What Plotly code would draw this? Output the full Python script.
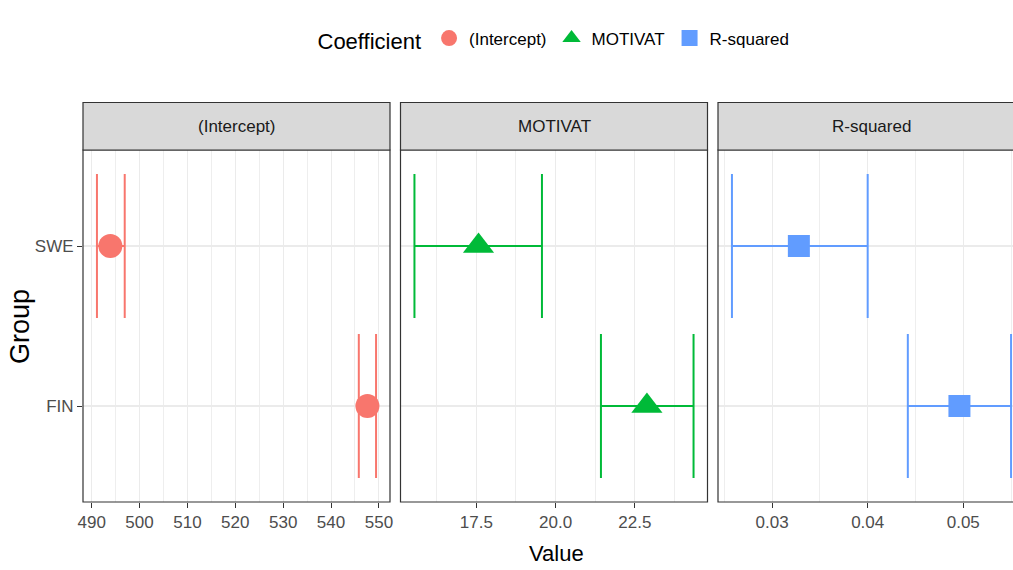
import plotly.graph_objects as go

# ---------------- data ----------------
groups = ["FIN", "SWE"]
coefficients = ["(Intercept)", "MOTIVAT", "R-squared"]

intercept_est = [547.6, 493.9]
intercept_lo = [545.8, 491.1]
intercept_hi = [549.4, 496.9]

motivat_est = [22.88, 17.57]
motivat_lo = [21.43, 15.55]
motivat_hi = [24.35, 19.57]

rsq_est = [0.0496, 0.0328]
rsq_lo = [0.0442, 0.0258]
rsq_hi = [0.0550, 0.0400]

intercept_ticks = [490, 500, 510, 520, 530, 540, 550]
intercept_ticktext = ["490", "500", "510", "520", "530", "540", "550"]
motivat_ticks = [17.5, 20.0, 22.5]
motivat_ticktext = ["17.5", "20.0", "22.5"]
rsq_ticks = [0.03, 0.04, 0.05]
rsq_ticktext = ["0.03", "0.04", "0.05"]

# ---------------- style / layout ----------------
W, H = 1013, 570
ML, MR, MT, MB = 83, 0, 150, 68
PW, PH = W - ML - MR, H - MT - MB
FONT = "Liberation Sans, Arial, sans-serif"

panel_px = [(83, 390), (400.5, 707.5), (718, 1025)]
colors = ["#F8766D", "#00BA38", "#619CFF"]
symbols = ["circle", "triangle-up", "square"]
msizes = [24, 27, 22]
minor_step = [5, 1.25, 0.005]

series = [
    (intercept_est, intercept_lo, intercept_hi, intercept_ticks, intercept_ticktext),
    (motivat_est, motivat_lo, motivat_hi, motivat_ticks, motivat_ticktext),
    (rsq_est, rsq_lo, rsq_hi, rsq_ticks, rsq_ticktext),
]

def px2paper_x(px):
    return (px - ML) / PW

fig = go.Figure()
ypos = [i + 1 for i in range(len(groups))]
half_cap = 0.45

for k, (name, (est, lo, hi, tv, tt)) in enumerate(zip(coefficients, series)):
    ax = "" if k == 0 else str(k + 1)
    xs, ys = [], []
    for y, a, b in zip(ypos, lo, hi):
        xs += [a, b, None, a, a, None, b, b, None]
        ys += [y, y, None, y - half_cap, y + half_cap, None, y - half_cap, y + half_cap, None]
    fig.add_trace(go.Scatter(
        x=xs, y=ys, mode="lines", xaxis="x" + ax, yaxis="y" + ax,
        line=dict(color=colors[k], width=2), showlegend=False, hoverinfo="skip"))
    fig.add_trace(go.Scatter(
        x=est, y=ypos, mode="markers", name=name, xaxis="x" + ax, yaxis="y" + ax,
        marker=dict(color=colors[k], symbol=symbols[k], size=msizes[k], line=dict(width=0))))

    # ranges (ggplot-like 5% expansion)
    lo_all, hi_all = min(lo), max(hi)
    pad = 0.05 * (hi_all - lo_all)
    r0, r1 = lo_all - pad, hi_all + pad
    p0, p1 = panel_px[k]
    d0 = px2paper_x(p0)
    d1 = px2paper_x(p1)
    if d1 > 1:
        frac = (1 - d0) / (d1 - d0)
        r1 = r0 + frac * (r1 - r0)
        d1 = 1.0
    fig.layout["xaxis" + ax] = dict(
        domain=[d0, d1], range=[r0, r1], anchor="y" + ax,
        tickmode="array", tickvals=tv, ticktext=tt,
        ticks="outside", ticklen=5, tickwidth=1.1, tickcolor="#333333",
        tickfont=dict(family=FONT, size=17, color="#4D4D4D"),
        showgrid=True, gridcolor="#EBEBEB", gridwidth=1.1,
        minor=dict(tick0=tv[0], dtick=minor_step[k], showgrid=True,
                   gridcolor="#EEEEEE", gridwidth=0.6, ticks=""),
        zeroline=False, showline=False, automargin=False)
    fig.layout["yaxis" + ax] = dict(
        domain=[0, 1], range=[0.4, 2.6], anchor="x" + ax,
        tickmode="array", tickvals=ypos, ticktext=groups,
        showticklabels=(k == 0),
        ticks="outside" if k == 0 else "", ticklen=5, tickwidth=1.1, tickcolor="#333333",
        tickfont=dict(family=FONT, size=17, color="#4D4D4D"),
        showgrid=True, gridcolor="#EBEBEB", gridwidth=2,
        zeroline=False, showline=False, automargin=False)

    # panel border
    x1_paper = px2paper_x(p1)
    fig.add_shape(type="rect", xref="paper", yref="paper",
                  x0=d0, x1=x1_paper, y0=0, y1=1,
                  line=dict(color="#333333", width=1.2), fillcolor="rgba(0,0,0,0)",
                  layer="above")
    # strip
    strip_top = 1 + 47.5 / PH
    fig.add_shape(type="rect", xref="paper", yref="paper",
                  x0=d0, x1=x1_paper, y0=1, y1=strip_top,
                  line=dict(color="#333333", width=1.2), fillcolor="#D9D9D9",
                  layer="above")
    fig.add_annotation(xref="paper", yref="paper",
                       x=(d0 + x1_paper) / 2, y=(1 + strip_top) / 2,
                       text=name, showarrow=False, xanchor="center", yanchor="middle",
                       font=dict(family=FONT, size=17, color="#1A1A1A"))

# axis titles
fig.add_annotation(xref="paper", yref="paper", x=px2paper_x(556), y=(H - MB - 553) / PH,
                   text="Value", showarrow=False, xanchor="center", yanchor="middle",
                   font=dict(family=FONT, size=22, color="#000000"))
fig.add_annotation(xref="paper", yref="paper", x=px2paper_x(20), y=(H - MB - 326) / PH,
                   text="Group", showarrow=False, textangle=-90, xanchor="center", yanchor="middle",
                   font=dict(family=FONT, size=27, color="#000000"))

fig.update_layout(
    width=W, height=H,
    margin=dict(l=ML, r=MR, t=MT, b=MB, pad=0, autoexpand=False),
    paper_bgcolor="white", plot_bgcolor="white",
    legend=dict(orientation="h", x=px2paper_x(555), xanchor="center",
                y=1 + (MT - 40) / PH, yanchor="middle",
                title=dict(text="Coefficient", side="left",
                           font=dict(family=FONT, size=22, color="#000000")),
                font=dict(family=FONT, size=17, color="#000000"),
                bgcolor="rgba(0,0,0,0)"),
)

fig.write_html("out.html")
